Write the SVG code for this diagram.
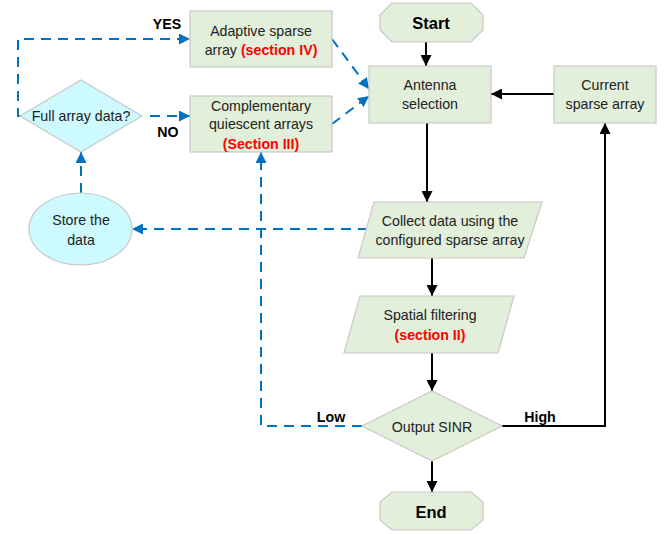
<svg xmlns="http://www.w3.org/2000/svg" width="670" height="534" viewBox="0 0 670 534">
<style>
.g{fill:#E2EFDA;stroke:#C8C8C8;stroke-width:1.2}
.c{fill:#CCFAFF;stroke:#C8C8C8;stroke-width:1.2}
text{font-family:"Liberation Sans",Arial,sans-serif;font-size:14.2px;fill:#222;text-anchor:middle}
.b{font-weight:bold;fill:#000}
.r{font-weight:bold;fill:#FF0000}
.k{fill:none;stroke:#000;stroke-width:2}
.d{fill:none;stroke:#0070C0;stroke-width:2;stroke-dasharray:10 7}
</style>
<defs>
<marker id="ak" viewBox="0 0 10 10" refX="10" refY="5" markerWidth="5.5" markerHeight="5.5" orient="auto" markerUnits="strokeWidth"><path d="M0,0L10,5L0,10z" fill="#000"/></marker>
<marker id="ab" viewBox="0 0 10 10" refX="10" refY="5" markerWidth="5.5" markerHeight="5.5" orient="auto" markerUnits="strokeWidth"><path d="M0,0L10,5L0,10z" fill="#0070C0"/></marker>
</defs>
<g id="connectors">
<path class="k" d="M426,42V66" marker-end="url(#ak)"/>
<path class="k" d="M554,94H491" marker-end="url(#ak)"/>
<path class="k" d="M427,123V202" marker-end="url(#ak)"/>
<path class="k" d="M432,258V296" marker-end="url(#ak)"/>
<path class="k" d="M432,353V391" marker-end="url(#ak)"/>
<path class="k" d="M432,461V492" marker-end="url(#ak)"/>
<path class="k" d="M502,426H605V123" marker-end="url(#ak)"/>
<path class="d" d="M20,116H18V39H190" marker-end="url(#ab)"/>
<path class="d" d="M150,116H190" marker-end="url(#ab)"/>
<path class="d" d="M332,39L369,89" marker-end="url(#ab)"/>
<path class="d" d="M332,124L369,96" marker-end="url(#ab)"/>
<path class="d" d="M368,229H132" marker-end="url(#ab)"/>
<path class="d" d="M81,193V152" marker-end="url(#ab)"/>
<path class="d" d="M362,426H261V152" marker-end="url(#ab)"/>
<text class="b" x="167" y="29">YES</text>
<text class="b" x="168" y="137">NO</text>
<text class="b" x="331" y="422">Low</text>
<text class="b" x="540" y="422">High</text>
</g>
<g id="start">
<polygon class="g" points="392,3 471,3 483,15 483,30 471,42 392,42 380,30 380,15"/>
<text class="b" x="431" y="29" style="font-size:16.5px">Start</text>
</g>
<g id="antenna">
<rect class="g" x="369" y="66" width="122" height="57"/>
<text x="430" y="90">Antenna</text>
<text x="430" y="109">selection</text>
</g>
<g id="current">
<rect class="g" x="554" y="66" width="102" height="57"/>
<text x="605" y="90">Current</text>
<text x="605" y="109">sparse array</text>
</g>
<g id="adaptive">
<rect class="g" x="190" y="11" width="142" height="56"/>
<text x="261" y="36">Adaptive sparse</text>
<text x="261" y="55">array <tspan class="r">(section IV)</tspan></text>
</g>
<g id="complementary">
<rect class="g" x="190" y="96" width="142" height="56"/>
<text x="261" y="111">Complementary</text>
<text x="261" y="129">quiescent arrays</text>
<text class="r" x="261" y="149">(Section III)</text>
</g>
<g id="fullarray">
<polygon class="c" points="20,116 81,80 142,116 81,152"/>
<text x="81" y="121">Full array data?</text>
</g>
<g id="store">
<ellipse class="c" cx="80.5" cy="229" rx="51.5" ry="36"/>
<text x="81" y="225">Store the</text>
<text x="81" y="245">data</text>
</g>
<g id="collect">
<polygon class="g" points="374,202 542,202 524,258 358,258"/>
<text x="450" y="226">Collect data using the</text>
<text x="450" y="245">configured sparse array</text>
</g>
<g id="spatial">
<polygon class="g" points="360,296 514,296 498,353 344,353"/>
<text x="430" y="320">Spatial filtering</text>
<text class="r" x="430" y="340">(section II)</text>
</g>
<g id="sinr">
<polygon class="g" points="362,426 432,391 502,426 432,461"/>
<text x="432" y="432">Output SINR</text>
</g>
<g id="end">
<polygon class="g" points="392,492 471,492 483,502 483,520 471,530 392,530 380,520 380,502"/>
<text class="b" x="431" y="518" style="font-size:16.5px">End</text>
</g>
</svg>
